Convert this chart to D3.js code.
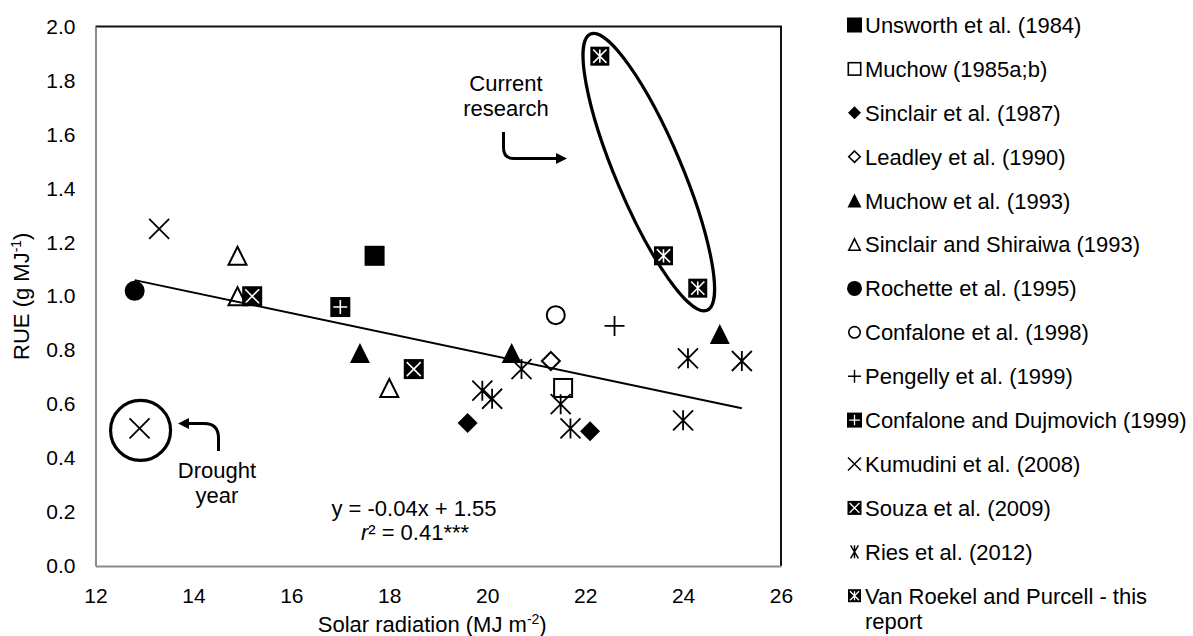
<!DOCTYPE html>
<html>
<head>
<meta charset="utf-8">
<script src="https://cdn.jsdelivr.net/npm/d3@7"></script>
<style>
  body { margin: 0; background: #fff; }
  svg { font-family: "Liberation Sans", Arial, sans-serif; }
</style>
</head>
<body>
<svg width="1193" height="636"></svg>
<script>
var width = 1193;
var height = 636;

// one array per study: [solar radiation, RUE]
var unsworth = [[17.7, 1.15]];
var muchow85 = [[21.55, 0.66]];
var sinclair87 = [[19.6, 0.53], [22.1, 0.50]];
var leadley = [[21.3, 0.76]];
var muchow93 = [[17.4, 0.79], [20.5, 0.79], [24.75, 0.86]];
var sinclairShiraiwa = [[14.9, 1.15], [14.9, 1.00], [18.0, 0.66]];
var rochette = [[12.8, 1.02]];
var confalone98 = [[21.4, 0.93]];
var pengelly = [[22.6, 0.89]];
var confaloneDuj = [[17.0, 0.96]];
var kumudini = [[13.3, 1.25], [12.9, 0.51]];
var souza = [[15.2, 1.00], [18.5, 0.73]];
var ries = [[19.9, 0.65], [20.1, 0.62], [20.7, 0.73], [21.5, 0.60], [21.7, 0.51], [24.0, 0.54], [24.1, 0.77], [25.2, 0.76]];
var vanRoekel = [[22.3, 1.89], [23.6, 1.15], [24.3, 1.03]];

var seriesNames = ["Unsworth et al. (1984)", "Muchow (1985a;b)", "Sinclair et al. (1987)",
  "Leadley et al. (1990)", "Muchow et al. (1993)", "Sinclair and Shiraiwa (1993)",
  "Rochette et al. (1995)", "Confalone et al. (1998)", "Pengelly et al. (1999)",
  "Confalone and Dujmovich (1999)", "Kumudini et al. (2008)", "Souza et al. (2009)",
  "Ries et al. (2012)", "Van Roekel and Purcell - this report"];
var seriesData = [unsworth, muchow85, sinclair87, leadley, muchow93, sinclairShiraiwa,
  rochette, confalone98, pengelly, confaloneDuj, kumudini, souza, ries, vanRoekel];
var seriesShape = ["sqFill", "sqOpen", "diaFill", "diaOpen", "triFill", "triOpen",
  "circFill", "circOpen", "plus", "sqPlus", "x", "sqX", "star", "sqStar"];

var xTicks = [12, 14, 16, 18, 20, 22, 24, 26];
var yTicks = [0, 0.2, 0.4, 0.6, 0.8, 1.0, 1.2, 1.4, 1.6, 1.8, 2.0];

// trendline y = slope*x + intercept
var trendSlope = -0.0383;
var trendIntercept = 1.55;

var xScale = d3.scaleLinear().domain([12, 26]).range([95.5, 781]);
var yScale = d3.scaleLinear().domain([0, 2]).range([566, 26.5]);

var svg = d3.select("svg");

svg.append("rect").attr("width", width).attr("height", height).attr("fill", "#fff");

// top + right border of plot area
svg.append("path")
  .attr("d", `M${xScale(12)},${yScale(2)} H${xScale(26)} V${yScale(0)}`)
  .attr("fill", "none").attr("stroke", "#111").attr("stroke-width", 2);

var xAxis = d3.axisBottom(xScale).tickValues(xTicks).tickSize(0).tickPadding(22);
var yAxis = d3.axisLeft(yScale).tickValues(yTicks).tickSize(0).tickPadding(20)
  .tickFormat(d3.format(".1f"));

svg.append("g")
  .attr("transform", `translate(0, ${yScale(0)})`)
  .call(xAxis)
  .call(g => g.select(".domain").attr("stroke", "#8a8a8a").attr("stroke-width", 2))
  .selectAll("text").attr("font-size", 21).attr("fill", "#000").attr("font-family", null);

svg.append("g")
  .attr("transform", `translate(${xScale(12)}, 0)`)
  .call(yAxis)
  .call(g => g.select(".domain").attr("stroke", "#8a8a8a").attr("stroke-width", 2))
  .selectAll("text").attr("font-size", 21).attr("fill", "#000").attr("font-family", null);

// axis titles
var xt = svg.append("text")
  .attr("x", (xScale(12) + xScale(26)) / 2 - 6)
  .attr("y", 632)
  .attr("text-anchor", "middle")
  .attr("font-size", 22);
xt.append("tspan").text("Solar radiation (MJ m");
xt.append("tspan").attr("font-size", 14).attr("dy", -8).text("-2");
xt.append("tspan").attr("dy", 8).text(")");

var yt = svg.append("text")
  .attr("transform", `translate(29, ${(yScale(0) + yScale(2)) / 2}) rotate(-90)`)
  .attr("text-anchor", "middle")
  .attr("font-size", 22);
yt.append("tspan").text("RUE (g MJ");
yt.append("tspan").attr("font-size", 14).attr("dy", -8).text("-1");
yt.append("tspan").attr("dy", 8).text(")");

function drawMarker(g, shape, s, lw) {
  var h = s / 2;
  lw = lw || 2;
  var box = shape.indexOf("sq") === 0;
  if (shape === "sqOpen") {
    g.append("rect").attr("x", -h + lw / 2).attr("y", -h + lw / 2).attr("width", s - lw).attr("height", s - lw)
      .attr("fill", "#fff").attr("stroke", "#000").attr("stroke-width", lw);
    return;
  }
  if (box) {
    g.append("rect").attr("x", -h).attr("y", -h).attr("width", s).attr("height", s).attr("fill", "#000");
    var k = h - Math.max(2, s * 0.15);
    var d = "";
    if (shape === "sqPlus") d = `M${-k},0H${k}M0,${-k}V${k}`;
    if (shape === "sqX") d = `M${-k},${-k}L${k},${k}M${k},${-k}L${-k},${k}`;
    if (shape === "sqStar") d = `M${-k},${-k}L${k},${k}M${k},${-k}L${-k},${k}M0,${-k}V${k}`;
    if (d) g.append("path").attr("d", d).attr("stroke", "#fff").attr("stroke-width", s > 16 ? 1.6 : 1.3).attr("fill", "none");
    return;
  }
  if (shape === "diaFill" || shape === "diaOpen") {
    var open = shape === "diaOpen";
    var r = open ? h - lw / 2 : h;
    g.append("path").attr("d", `M0,${-r}L${r},0L0,${r}L${-r},0Z`)
      .attr("fill", open ? "#fff" : "#000")
      .attr("stroke", open ? "#000" : "none").attr("stroke-width", lw);
    return;
  }
  if (shape === "triFill" || shape === "triOpen") {
    var o = shape === "triOpen";
    var t = o ? h - lw / 2 : h;
    g.append("path").attr("d", `M0,${-t}L${t},${t}L${-t},${t}Z`)
      .attr("fill", o ? "#fff" : "#000")
      .attr("stroke", o ? "#000" : "none").attr("stroke-width", lw);
    return;
  }
  if (shape === "circFill") {
    g.append("circle").attr("r", h).attr("fill", "#000");
    return;
  }
  if (shape === "circOpen") {
    g.append("circle").attr("r", h - lw / 2).attr("fill", "#fff").attr("stroke", "#000").attr("stroke-width", lw);
    return;
  }
  var p = "";
  var w = shape === "star" && s < 16 ? h * 0.6 : h;
  if (shape === "plus") p = `M${-h},0H${h}M0,${-h}V${h}`;
  if (shape === "x") p = `M${-h},${-h}L${h},${h}M${h},${-h}L${-h},${h}`;
  if (shape === "star") p = `M${-w},${-h}L${w},${h}M${w},${-h}L${-w},${h}M0,${-h}V${h}`;
  g.append("path").attr("d", p).attr("stroke", "#000").attr("stroke-width", lw * 0.9).attr("fill", "none");
}

// points
seriesData.forEach((data, i) => {
  var shape = seriesShape[i];
  var size = shape === "sqStar" ? 19 : 20;
  svg.append("g").selectAll("g")
    .data(data)
    .enter()
    .append("g")
    .attr("transform", d => `translate(${xScale(d[0])}, ${yScale(d[1])})`)
    .each(function () { drawMarker(d3.select(this), shape, size, 2); });
});

// trendline over all points
var allX = seriesData.flat().map(d => d[0]);
var xMin = d3.min(allX), xMax = d3.max(allX);
svg.append("line")
  .attr("x1", xScale(xMin)).attr("y1", yScale(trendSlope * xMin + trendIntercept))
  .attr("x2", xScale(xMax)).attr("y2", yScale(trendSlope * xMax + trendIntercept))
  .attr("stroke", "#000").attr("stroke-width", 2);

// equation
svg.append("text").attr("x", 414).attr("y", 516).attr("text-anchor", "middle").attr("font-size", 22)
  .text("y = -0.04x + 1.55");
var r2 = svg.append("text").attr("x", 415).attr("y", 540).attr("text-anchor", "middle").attr("font-size", 22);
r2.append("tspan").attr("font-style", "italic").text("r");
r2.append("tspan").text("² = 0.41***");

// ellipse round this report's points
var vFirst = vanRoekel[0], vLast = vanRoekel[vanRoekel.length - 1];
var ex1 = xScale(vFirst[0]), ey1 = yScale(vFirst[1]);
var ex2 = xScale(vLast[0]), ey2 = yScale(vLast[1]);
var eAng = Math.atan2(ey2 - ey1, ex2 - ex1) * 180 / Math.PI;
var eLen = Math.hypot(ex2 - ex1, ey2 - ey1);
svg.append("ellipse")
  .attr("transform", `translate(${(ex1 + ex2) / 2}, ${(ey1 + ey2) / 2}) rotate(${eAng})`)
  .attr("rx", eLen / 2 + 24).attr("ry", 33)
  .attr("fill", "none").attr("stroke", "#000").attr("stroke-width", 3.2);

// circle round the drought year
var drought = kumudini[1];
svg.append("circle")
  .attr("cx", xScale(drought[0]) + 1).attr("cy", yScale(drought[1]) + 2)
  .attr("r", 30)
  .attr("fill", "none").attr("stroke", "#000").attr("stroke-width", 3.2);

// annotations
svg.append("text").attr("x", 506).attr("y", 91).attr("text-anchor", "middle").attr("font-size", 22).text("Current");
svg.append("text").attr("x", 506).attr("y", 116).attr("text-anchor", "middle").attr("font-size", 22).text("research");
svg.append("path").attr("d", "M503.5,132 V148 Q503.5,158.5 514,158.5 H557")
  .attr("fill", "none").attr("stroke", "#000").attr("stroke-width", 3);
svg.append("path").attr("d", "M567,158.5 L556,153 L556,164 Z").attr("fill", "#000");

svg.append("text").attr("x", 217).attr("y", 478).attr("text-anchor", "middle").attr("font-size", 22).text("Drought");
svg.append("text").attr("x", 217).attr("y", 503).attr("text-anchor", "middle").attr("font-size", 22).text("year");
svg.append("path").attr("d", "M218.5,451 V438 Q218.5,423.5 204,423.5 H188")
  .attr("fill", "none").attr("stroke", "#000").attr("stroke-width", 3);
svg.append("path").attr("d", "M178,423.5 L189,418 L189,429 Z").attr("fill", "#000");

// legend
var legendTop = 25;
var legendStep = 43.9;
var legendSize = [15, 14, 13, 13, 14, 13, 15, 13, 13, 15, 13, 14, 13, 13];
var legend = svg.append("g").selectAll("g")
  .data(seriesNames)
  .enter()
  .append("g")
  .attr("transform", (d, i) => `translate(854.5, ${legendTop + i * legendStep})`);

legend.each(function (d, i) { drawMarker(d3.select(this), seriesShape[i], legendSize[i], 1.6); });

legend.append("text")
  .attr("x", 10.5)
  .attr("dy", "0.36em")
  .attr("font-size", 22)
  .each(function (d) {
    var t = d3.select(this);
    if (d.indexOf("this report") > -1) {
      t.append("tspan").text("Van Roekel and Purcell - this");
      t.append("tspan").attr("x", 10.5).attr("dy", 25).text("report");
    } else {
      t.text(d);
    }
  });
</script>
</body>
</html>
